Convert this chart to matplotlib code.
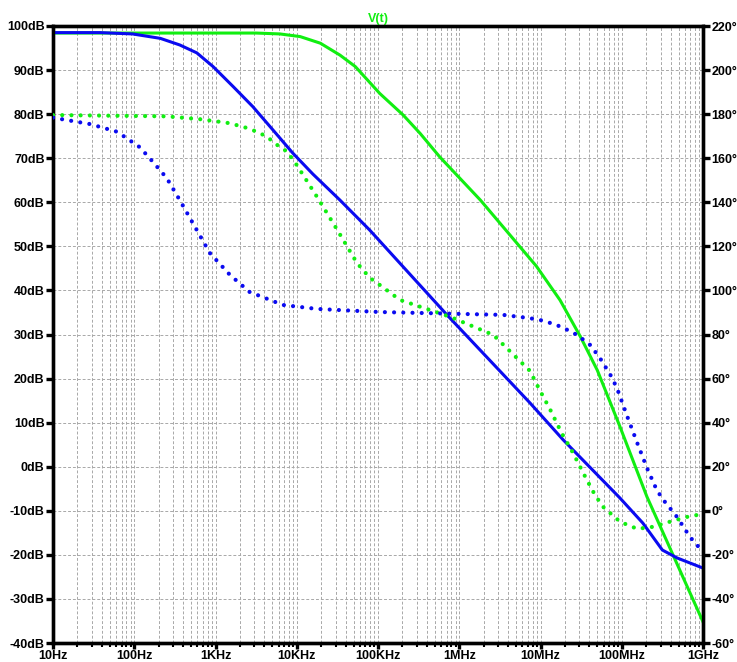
import numpy as np
import matplotlib
matplotlib.use("Agg")
import matplotlib.pyplot as plt
from matplotlib.ticker import FixedLocator, LogLocator, NullFormatter

plt.rcParams['font.family'] = ['Liberation Sans', 'DejaVu Sans']
plt.rcParams['font.weight'] = 'bold'

# magnitude, trace A (green solid), dB
freq_mag_a = [10, 3.16e3, 6.2e3, 1.1e4, 1.95e4, 3.4e4, 5.25e4, 1.05e5, 2.04e5, 3.31e5,
              5.75e5, 1.82e6, 8.9e6, 1.74e7, 3.1e7, 5.0e7, 9.5e7, 2.04e8, 1e9]
mag_a = [98.4, 98.4, 98.2, 97.6, 96.1, 93.4, 90.8, 84.7, 79.8, 75.6,
         70.3, 60.5, 45.5, 37.8, 29.5, 21.9, 9.1, -6.8, -35.2]

# magnitude, trace B (blue solid), dB
freq_mag_b = [10, 38, 95, 209, 363, 589, 933, 1.66e3, 2.88e3, 5.1e3, 8.9e3, 1.58e4,
              3.4e4, 7.9e4, 7.1e5, 7.4e6, 1.9e7, 9.5e7, 1.82e8, 3.16e8, 4.8e8, 1e9]
mag_b = [98.5, 98.5, 98.2, 97.2, 95.7, 93.9, 90.8, 86.2, 81.7, 76.4, 71.2, 66.4,
         60.5, 53.7, 34.4, 14.5, 6.1, -7.1, -12.8, -18.9, -20.7, -23.0]

# phase, trace A (green dotted), degrees
freq_ph_a = [10, 251, 646, 1380, 2190, 3240, 4270, 5750, 7590, 1e4, 1.78e4, 3.16e4,
             5.5e4, 7.94e4, 1.05e5, 1.86e5, 7.76e5, 2.63e6, 7.41e6, 9.77e6, 1.32e7,
             1.82e7, 2.51e7, 3.72e7, 4.68e7, 5.89e7, 9.55e7, 1.55e8, 2.4e8, 3.89e8,
             6.31e8, 1e9]
ph_a = [179.6, 179.0, 177.7, 176.1, 174.3, 172.0, 169.8, 166.0, 163.0, 156.9, 142.4, 127.4,
        112.5, 105.7, 102.5, 95.7, 88.0, 79.8, 63.5, 54.8, 45.8,
        35.3, 26.3, 14.0, 7.2, 1.8, -5.0, -8.2, -7.3, -5.0,
        -2.8, -1.4]

# phase, trace B (blue dotted), degrees
freq_ph_b = [10, 28.5, 61.7, 117, 170, 251, 363, 525, 851, 1510, 2630, 6760,
             1.78e4, 1.05e5, 3.47e6, 7.41e6, 1.07e7, 1.58e7, 2.14e7, 2.82e7, 4.07e7,
             5.37e7, 7.24e7, 8.71e7, 1.15e8, 1.55e8, 2.04e8, 2.69e8, 3.24e8, 4.79e8,
             6.92e8, 1e9]
ph_b = [178.4, 175.5, 172.0, 165.0, 158.3, 151.0, 141.0, 130.6, 117.0, 107.0, 99.3, 93.4,
        91.6, 90.2, 88.9, 87.4, 86.3, 84.3, 82.1, 79.8, 75.3,
        69.4, 61.7, 55.8, 43.5, 30.8, 19.5, 9.5, 5.0, -2.8,
        -11.9, -18.7]

db_ticks = list(range(-40, 101, 10))
deg_ticks = list(range(-60, 221, 20))
freq_ticks = [10, 100, 1e3, 1e4, 1e5, 1e6, 1e7, 1e8, 1e9]
freq_labels = ['10Hz', '100Hz', '1KHz', '10KHz', '100KHz', '1MHz', '10MHz', '100MHz', '1GHz']

green = '#11ee11'
blue = '#0a0af0'

fig = plt.figure(figsize=(7.37, 6.62), dpi=100)
ax = fig.add_axes([53 / 737, 19 / 662, 650 / 737, 617 / 662])
ax2 = ax.twinx()

ax.plot(freq_mag_a, mag_a, color=green, lw=2.2, zorder=3)
ax.plot(freq_mag_b, mag_b, color=blue, lw=2.2, zorder=3)
ax2.plot(freq_ph_a, ph_a, color=green, lw=3, linestyle=(0, (0.01, 2.2)),
         dash_capstyle='round', zorder=3)
ax2.plot(freq_ph_b, ph_b, color=blue, lw=3, linestyle=(0, (0.01, 2.2)),
         dash_capstyle='round', zorder=3)

ax.set_xscale('log')
ax.set_xlim(10, 1e9)
ax.set_ylim(-40, 100)
ax2.set_ylim(-60, 220)

ax.xaxis.set_major_locator(FixedLocator(freq_ticks))
ax.set_xticklabels(freq_labels)
ax.xaxis.set_minor_locator(LogLocator(base=10, subs=np.arange(2, 10), numticks=20))
ax.xaxis.set_minor_formatter(NullFormatter())

ax.set_yticks(db_ticks)
ax.set_yticklabels([f'{v}dB' for v in db_ticks])
ax2.set_yticks(deg_ticks)
ax2.set_yticklabels([f'{v}°' for v in deg_ticks])

ax.grid(True, which='major', axis='both', color='#a8a8a8', linestyle=(0, (3, 2)), lw=0.7)
ax.grid(True, which='minor', axis='x', color='#a8a8a8', linestyle=(0, (3, 2)), lw=0.7)
ax.set_axisbelow(True)

for a in (ax, ax2):
    for s in a.spines.values():
        s.set_linewidth(2.4)
        s.set_color('black')
ax.tick_params(axis='y', direction='out', length=5, width=2.4, labelsize=9, pad=1)
ax2.tick_params(axis='y', direction='out', length=5, width=2.4, labelsize=9, pad=1)
ax.tick_params(axis='x', which='major', direction='out', length=4, width=2.4, labelsize=9, pad=1)
ax.tick_params(axis='x', which='minor', direction='out', length=3, width=1.5)

ax.set_title('V(t)', color=green, fontsize=9, fontweight='bold', pad=3)

fig.savefig('out.png', dpi=100)
